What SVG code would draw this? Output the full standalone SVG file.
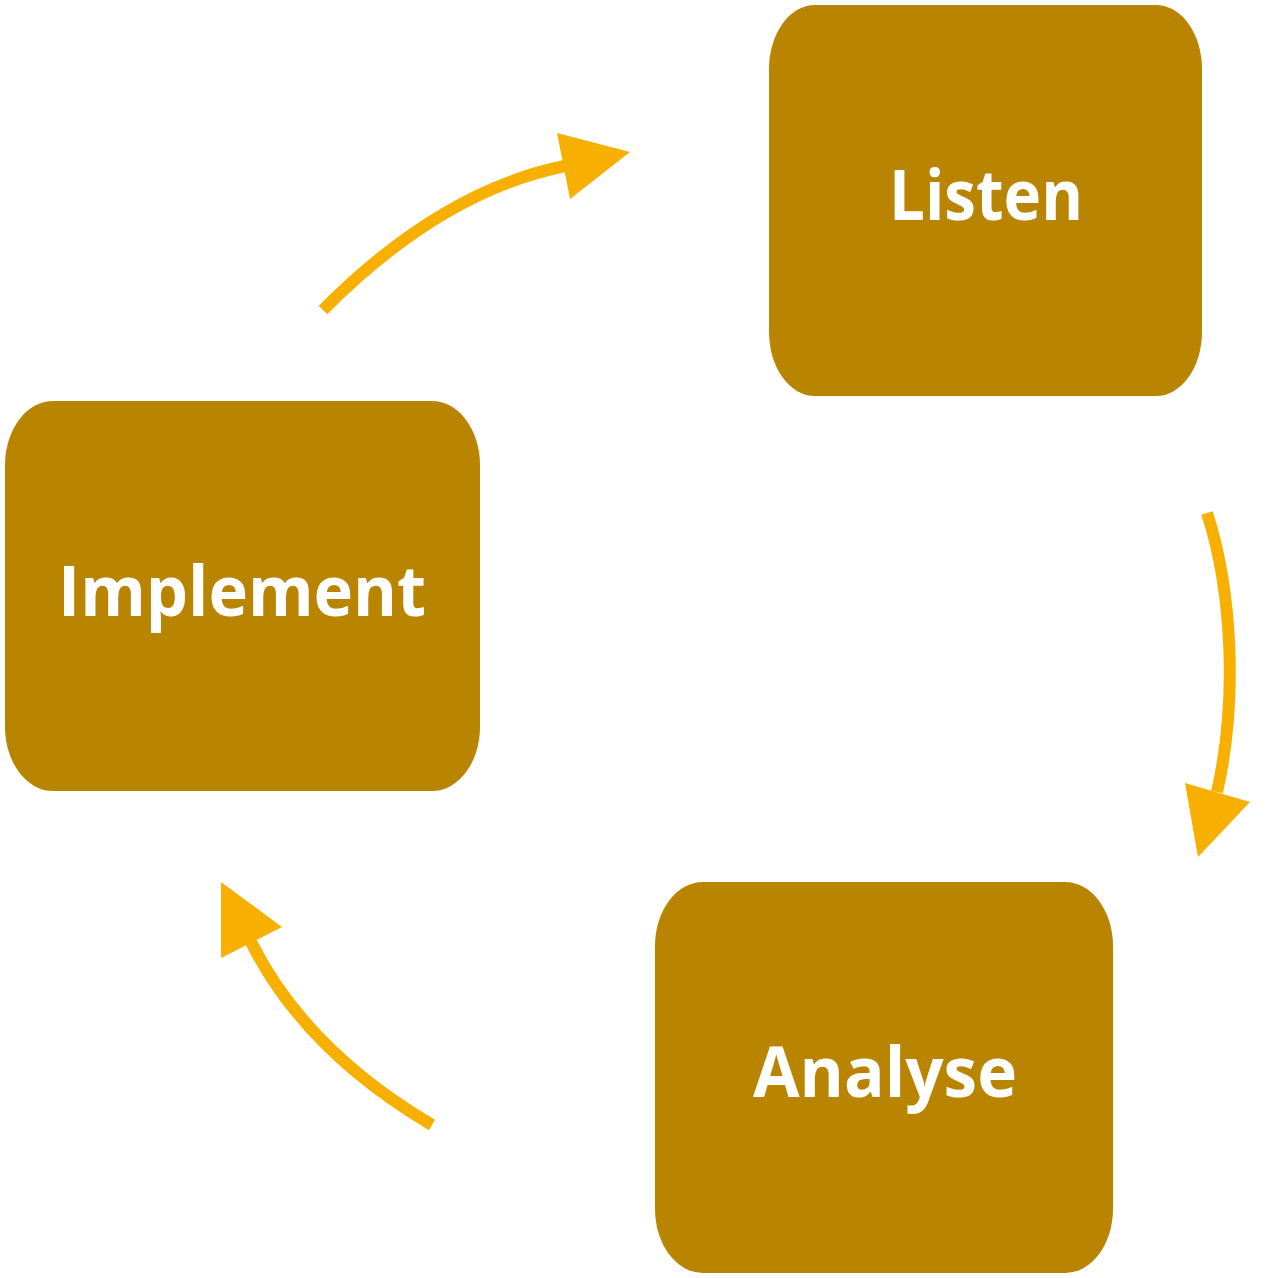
<svg xmlns="http://www.w3.org/2000/svg" width="1268" height="1278" viewBox="0 0 1268 1278">
<style>
.box{fill:#B98500;}
.lbl{fill:#FFFFFF;font-family:"Open Sans","Liberation Sans",sans-serif;font-weight:bold;font-size:70px;}
.arc{fill:none;stroke:#F7B000;stroke-width:12;}
.head{fill:#F7B000;}
</style>
<rect width="1268" height="1278" fill="#FFFFFF"/>
<g id="listen">
<rect class="box" x="769" y="5" width="433" height="391" rx="46" ry="64"/>
<text class="lbl" x="889" y="220" textLength="194" lengthAdjust="spacingAndGlyphs">Listen</text>
</g>
<g id="implement">
<rect class="box" x="5" y="401" width="475" height="390" rx="48" ry="64"/>
<text class="lbl" x="58" y="616" textLength="368" lengthAdjust="spacingAndGlyphs">Implement</text>
</g>
<g id="analyse">
<rect class="box" x="655" y="882" width="458" height="391" rx="48" ry="64"/>
<text class="lbl" x="753" y="1097" textLength="264" lengthAdjust="spacingAndGlyphs">Analyse</text>
</g>
<g id="connectors">
<path class="arc" d="M323,310 Q441,191 565,166"/>
<polygon class="head" points="557,133 630,152 570,199"/>
<path class="arc" d="M1207,513 C1232,590 1238,700 1217,792"/>
<polygon class="head" points="1185,783 1250,802 1198,857"/>
<path class="arc" d="M432,1125 Q305,1050 251,942"/>
<polygon class="head" points="221,882 282,927 221,958"/>
</g>
</svg>
